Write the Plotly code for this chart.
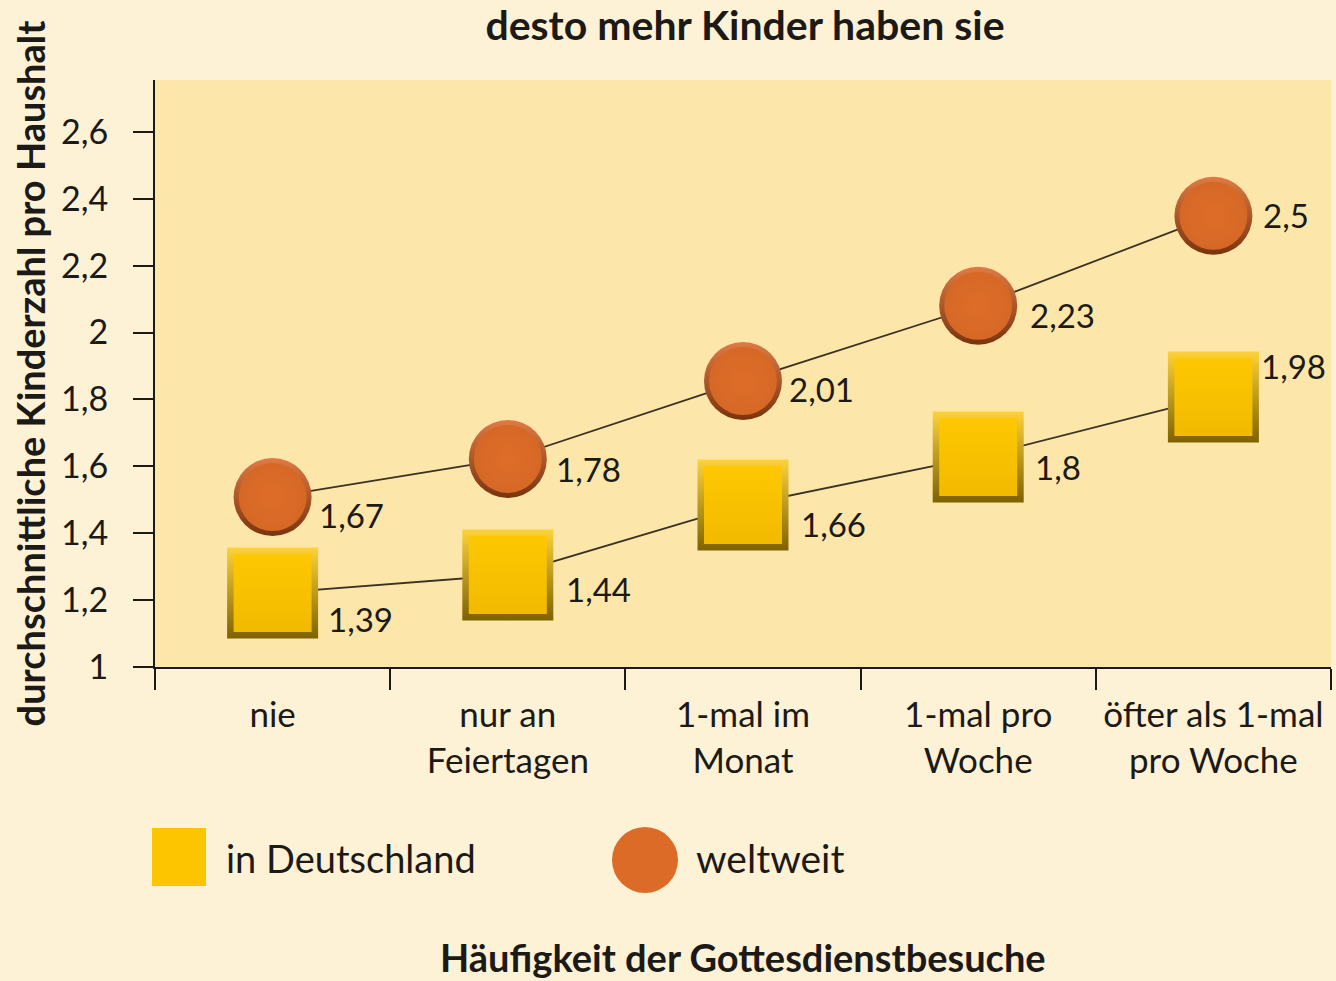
import plotly.graph_objects as go

# ---- data ----
categories = ["nie", "nur an<br>Feiertagen", "1-mal im<br>Monat", "1-mal pro<br>Woche", "öfter als 1-mal<br>pro Woche"]
# printed value labels
weltweit_labels = ["1,67", "1,78", "2,01", "2,23", "2,5"]
deutschland_labels = ["1,39", "1,44", "1,66", "1,8", "1,98"]
# marker positions as read against the y axis
weltweit_pos = [1.508, 1.622, 1.855, 2.08, 2.349]
deutschland_pos = [1.221, 1.275, 1.484, 1.628, 1.807]
y_ticks = [1, 1.2, 1.4, 1.6, 1.8, 2, 2.2, 2.4, 2.6]

# ---- style ----
BG = "#FDF1D6"
PLOT_BG = "#FDE6A9"
ORANGE = "#DC6B27"
YELLOW = "#FDC400"
INK = "#1c1a16"
LINE = "#3a3224"
TICK_FONT = "Lato, 'Noto Sans', sans-serif"

# label offsets (pixels): (xshift, yshift)
w_off = [(44, -18), (46, -10), (44, -8), (50, -9), (48, 1)]
d_off = [(53, -26), (56, -14), (56, -19), (55, -10), (46, 31)]

fig = go.Figure()

# connecting lines
fig.add_trace(go.Scatter(x=categories, y=weltweit_pos, mode="lines",
                         line=dict(color=LINE, width=1.8)))
fig.add_trace(go.Scatter(x=categories, y=deutschland_pos, mode="lines",
                         line=dict(color=LINE, width=1.8)))

# squares: bevel base + face
fig.add_trace(go.Scatter(x=categories, y=deutschland_pos, mode="markers",
                         marker=dict(symbol="square", size=91, color="#FDD23A",
                                     gradient=dict(type="vertical", color="#7E6200"),
                                     line=dict(width=0))))
fig.add_trace(go.Scatter(x=categories, y=deutschland_pos, mode="markers",
                         marker=dict(symbol="square", size=78, color="#FDC800",
                                     gradient=dict(type="vertical", color="#F2BA00"),
                                     line=dict(width=0))))
# circles: shaded base + face
fig.add_trace(go.Scatter(x=categories, y=weltweit_pos, mode="markers",
                         marker=dict(symbol="circle", size=78, color="#E07A45",
                                     gradient=dict(type="vertical", color="#7A330E"),
                                     line=dict(width=0))))
fig.add_trace(go.Scatter(x=categories, y=weltweit_pos, mode="markers",
                         marker=dict(symbol="circle", size=68, color="#D66826",
                                     gradient=dict(type="radial", color="#DE6D28"),
                                     line=dict(width=0))))

annotations = []
for c, y, t, (dx, dy) in zip(categories, weltweit_pos, weltweit_labels, w_off):
    annotations.append(dict(x=c, y=y, text=t, showarrow=False, xanchor="left", yanchor="middle",
                            xshift=dx, yshift=dy, font=dict(family=TICK_FONT, size=33, color=INK)))
for c, y, t, (dx, dy) in zip(categories, deutschland_pos, deutschland_labels, d_off):
    annotations.append(dict(x=c, y=y, text=t, showarrow=False, xanchor="left", yanchor="middle",
                            xshift=dx, yshift=dy, font=dict(family=TICK_FONT, size=33, color=INK)))

# legend (drawn manually)
W, H = 1176, 587
def px(X):
    return (X - 155) / W
def py(Y):
    return (667 - Y) / H

annotations.append(dict(x=px(224), y=py(858), xref="paper", yref="paper", text="in Deutschland",
                        showarrow=False, xanchor="left", yanchor="middle",
                        font=dict(family=TICK_FONT, size=38, color=INK)))
annotations.append(dict(x=px(694), y=py(858), xref="paper", yref="paper", text="weltweit",
                        showarrow=False, xanchor="left", yanchor="middle",
                        font=dict(family=TICK_FONT, size=39, color=INK)))
# x axis title
annotations.append(dict(x=0.5, y=py(957), xref="paper", yref="paper",
                        text="<b>Häufigkeit der Gottesdienstbesuche</b>",
                        showarrow=False, xanchor="center", yanchor="middle",
                        font=dict(family=TICK_FONT, size=38, color=INK)))

shapes = [
    dict(type="rect", xref="paper", yref="paper", x0=px(152), x1=px(206), y0=py(886), y1=py(828),
         fillcolor=YELLOW, line=dict(width=0), layer="above"),
    dict(type="circle", xref="paper", yref="paper", x0=px(612), x1=px(678), y0=py(893), y1=py(827),
         fillcolor=ORANGE, line=dict(width=0), layer="above"),
]

fig.update_layout(
    width=1336, height=981,
    margin=dict(l=155, r=5, t=80, b=314),
    paper_bgcolor=BG, plot_bgcolor=PLOT_BG,
    showlegend=False, hovermode=False,
    separators=",.",
    title=dict(text="<b>desto mehr Kinder haben sie</b>", x=745 / 1336, xanchor="center",
               y=1 - 26 / 981, yanchor="middle",
               font=dict(family=TICK_FONT, size=41, color=INK)),
    annotations=annotations,
    shapes=shapes,
    xaxis=dict(type="category", range=[-0.5, 4.5], tickson="boundaries",
               ticks="outside", ticklen=21, tickwidth=2, tickcolor=INK,
               showline=True, linecolor=INK, linewidth=2, showgrid=False, zeroline=False,
               tickangle=0, automargin=False,
               tickfont=dict(family=TICK_FONT, size=35, color=INK), ticklabelstandoff=16),
    yaxis=dict(range=[1, 2.755], tickvals=y_ticks, automargin=False,
               ticks="outside", ticklen=20, tickwidth=2, tickcolor=INK,
               showline=True, linecolor=INK, linewidth=2, showgrid=False, zeroline=False,
               tickfont=dict(family=TICK_FONT, size=34, color=INK), ticklabelstandoff=18,
               title=dict(text="<b>durchschnittliche Kinderzahl pro Haushalt</b>", standoff=4,
                          font=dict(family=TICK_FONT, size=38, color=INK))),
)

fig.write_html("out.html")
